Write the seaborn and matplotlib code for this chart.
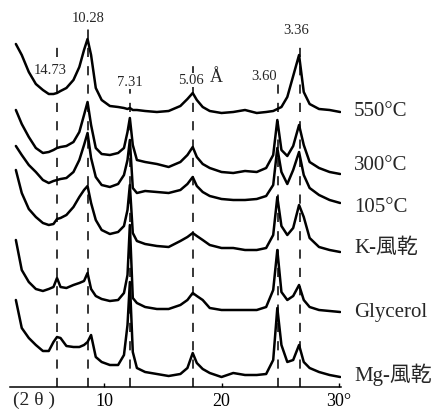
import numpy as np
import pandas as pd
import matplotlib
matplotlib.use("Agg")
import matplotlib.pyplot as plt
import seaborn as sns

# X-RAY DIFFRACTION TRACES (2-theta in degrees, stacked heights in arbitrary units)

two_theta = [2.5, 3.0, 3.6, 4.2, 4.8, 5.3, 5.7, 6.0, 6.3, 6.8,
             7.4, 7.9, 8.3, 8.6, 8.9, 9.3, 9.8, 10.5, 11.2, 11.7,
             12.0, 12.2, 12.45, 12.8, 13.5, 14.5, 15.5, 16.5, 17.1, 17.55,
             17.9, 18.4, 19.0, 20.0, 21.0, 22.0, 23.0, 23.8, 24.4, 24.75,
             25.1, 25.6, 26.1, 26.6, 27.0, 27.5, 28.3, 29.2, 30.1]

heat_550 = [343, 332, 315, 303, 297, 293, 293, 294, 296, 299,
            307, 320, 337, 348, 332, 299, 287, 281, 280, 279,
            278, 279, 277, 277, 276, 275, 276, 281, 288, 294,
            287, 280, 276, 274, 275, 277, 274, 275, 276, 278,
            280, 290, 311, 332, 295, 283, 278, 277, 275]

heat_300 = [277, 263, 250, 239, 234, 235, 237, 239, 240, 241,
            245, 255, 272, 285, 262, 239, 233, 232, 234, 239,
            255, 269, 242, 227, 225, 223, 220, 225, 232, 240,
            230, 223, 219, 215, 214, 216, 215, 219, 232, 267,
            237, 231, 241, 262, 242, 225, 219, 215, 213]

heat_105 = [241, 232, 222, 215, 207, 204, 206, 207, 208, 209,
            215, 227, 242, 254, 229, 210, 202, 200, 203, 212,
            227, 247, 199, 194, 196, 195, 194, 197, 203, 210,
            201, 195, 191, 188, 187, 187, 188, 191, 202, 239,
            215, 203, 217, 235, 212, 199, 192, 187, 184]

k_air = [217, 194, 178, 170, 164, 162, 163, 168, 169, 172,
         180, 190, 197, 201, 184, 167, 157, 153, 155, 161,
         177, 202, 154, 146, 143, 141, 140, 146, 150, 154,
         151, 147, 142, 139, 139, 137, 137, 139, 152, 190,
         161, 152, 159, 182, 170, 149, 140, 137, 135]

glycerol = [147, 117, 105, 98, 96, 98, 100, 109, 100, 99,
            102, 104, 106, 114, 98, 91, 88, 86, 87, 94,
            112, 162, 89, 84, 80, 78, 78, 82, 87, 94,
            91, 87, 79, 77, 77, 77, 77, 80, 97, 137,
            95, 87, 91, 102, 87, 80, 77, 76, 75]

mg_air = [87, 59, 49, 42, 36, 36, 45, 50, 49, 41,
          40, 40, 42, 45, 52, 30, 25, 22, 22, 32,
          62, 105, 35, 19, 15, 13, 11, 13, 19, 34,
          24, 18, 14, 10, 14, 12, 12, 13, 27, 79,
          42, 25, 27, 42, 25, 19, 15, 12, 10]

sample_names = ["550°C", "300°C", "105°C", "K-風乾", "Glycerol", "Mg-風乾"]
label_heights = [275, 222, 179, 139, 75, 12]

# d-spacings (Angstrom) marked on the pattern and their 2-theta positions
peak_labels = ["14.73", "10.28", "7.31", "5.06", "3.60", "3.36"]
peak_angles = [6.0, 8.64, 12.21, 17.57, 24.81, 26.7]
peak_tops = [342, 361, 299, 327, 304, 347]
label_x = [5.40, 8.64, 12.2, 17.40, 23.62, 26.34]
label_y = [317, 369, 305, 307, 310, 356]

traces = [heat_550, heat_300, heat_105, k_air, glycerol, mg_air]
df = pd.concat([
    pd.DataFrame({"two_theta": two_theta, "height": vals, "sample": name})
    for name, vals in zip(sample_names, traces)
])

sns.set_theme(style="white")
plt.rcParams["font.family"] = ["Liberation Serif", "Noto Sans CJK TC"]

fig = plt.figure(figsize=(4.44, 4.12), dpi=100)
ax = fig.add_axes([10/444, 25/412, 331/444, 387/412])

ax.vlines(peak_angles, 0, peak_tops, colors="black", linewidth=1.1,
          linestyles=(0, (6, 6)), zorder=1)

sns.lineplot(data=df, x="two_theta", y="height", hue="sample",
             palette={n: "black" for n in sample_names},
             estimator=None, sort=False, legend=False,
             linewidth=1.8, ax=ax, zorder=3)

for lab, x, y in zip(peak_labels, label_x, label_y):
    ax.text(x, y, lab, ha="center", va="center", fontsize=10.5, zorder=4,
            bbox=dict(facecolor="white", edgecolor="none", pad=0.3))
ax.text(19.6, 309, "Å", ha="center", va="center", fontsize=13, zorder=4)

for name, h in zip(sample_names, label_heights):
    ax.text(31.28, h, name, ha="left", va="center", fontsize=15)

ax.text(2.26, -13, "(2 θ )", ha="left", va="center", fontsize=14)

ax.set_xlim(2.0, 30.17)
ax.set_ylim(0, 387)
ax.set_xticks([10, 20, 30])
ax.set_xticklabels(["10", "20", "30°"], fontsize=13)
ax.set_yticks([])
ax.tick_params(axis="x", direction="in", length=3, width=1, pad=4,
               colors="black", bottom=True)
ax.set_xlabel("")
ax.set_ylabel("")
for s in ["top", "left", "right"]:
    ax.spines[s].set_visible(False)
ax.spines["bottom"].set_color("black")
ax.spines["bottom"].set_linewidth(1.1)
ax.patch.set_alpha(0)

fig.savefig("out.png", dpi=100)
